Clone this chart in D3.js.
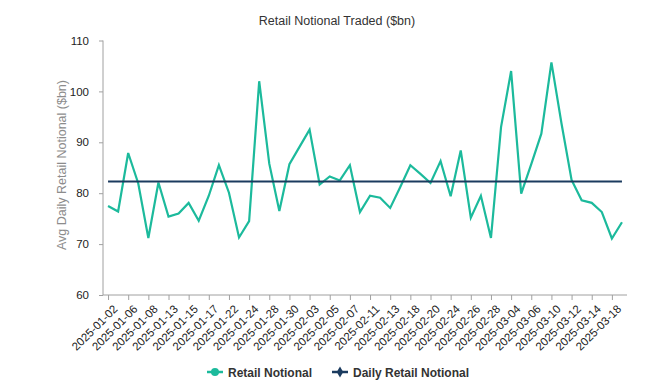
<!DOCTYPE html>
<html>
<head>
<meta charset="utf-8">
<script src="https://cdn.jsdelivr.net/npm/d3@7"></script>
<style>
  body { margin: 0; background: #fff; }
  text { font-family: "Liberation Sans", Arial, sans-serif; }
  .tick text { fill: #222; font-size: 11.5px; }
  .axis path, .axis line { stroke: #a0a0a0; }
</style>
</head>
<body>
<svg id="chart" width="670" height="388"></svg>
<script>
// trading days (labels shown every other day)
var dates = [
  "2025-01-02","2025-01-03","2025-01-06","2025-01-07","2025-01-08","2025-01-10",
  "2025-01-13","2025-01-14","2025-01-15","2025-01-16","2025-01-17","2025-01-21",
  "2025-01-22","2025-01-23","2025-01-24","2025-01-27","2025-01-28","2025-01-29",
  "2025-01-30","2025-01-31","2025-02-03","2025-02-04","2025-02-05","2025-02-06",
  "2025-02-07","2025-02-10","2025-02-11","2025-02-12","2025-02-13","2025-02-14",
  "2025-02-18","2025-02-19","2025-02-20","2025-02-21","2025-02-24","2025-02-25",
  "2025-02-26","2025-02-27","2025-02-28","2025-03-03","2025-03-04","2025-03-05",
  "2025-03-06","2025-03-07","2025-03-10","2025-03-11","2025-03-12","2025-03-13",
  "2025-03-14","2025-03-17","2025-03-18","2025-03-19"
];
var retail = [
  77.5, 76.4, 87.9, 81.9, 71.2, 82.1, 75.4, 76.0, 78.1, 74.6, 79.5, 85.5,
  80.1, 71.3, 74.5, 102.0, 85.8, 76.5, 85.7, 89.1, 92.5, 81.7, 83.3, 82.5,
  85.5, 76.3, 79.5, 79.1, 77.1, 81.2, 85.5, 83.8, 82.0, 86.3, 79.4, 88.4,
  75.2, 79.5, 71.2, 93.0, 104.0, 79.9, 85.7, 91.7, 105.7, 93.7, 82.6, 78.6,
  78.1, 76.3, 71.1, 74.3
];
var dailyAvg = 82.3;
var yTicks = [60, 70, 80, 90, 100, 110];

var TEAL = "#1cba9c", NAVY = "#1b3b5f";

var svg = d3.select("#chart");
var x = d3.scalePoint().domain(dates).range([103, 627]).padding(0.5);
var y = d3.scaleLinear().domain([60, 110]).range([295, 40.5]);

// title
svg.append("text")
  .attr("x", 337).attr("y", 25)
  .attr("text-anchor", "middle")
  .attr("font-size", "12.5px")
  .attr("fill", "#333")
  .text("Retail Notional Traded ($bn)");

// y axis
var yAxis = svg.append("g")
  .attr("class", "axis")
  .attr("transform", "translate(103,0)")
  .call(d3.axisLeft(y).tickValues(yTicks).tickSize(4).tickPadding(10));
yAxis.select(".domain").attr("d", "M0," + y(110) + "V" + y(60));

svg.append("text")
  .attr("transform", "translate(66,165) rotate(-90)")
  .attr("text-anchor", "middle")
  .attr("font-size", "12.5px")
  .attr("fill", "#8c8c8c")
  .text("Avg Daily Retail Notional ($bn)");

// x axis
var labelDates = dates.filter(function(d, i){ return i % 2 == 0; });
var xAxis = svg.append("g")
  .attr("class", "axis")
  .attr("transform", "translate(0,295)")
  .call(d3.axisBottom(x).tickValues(labelDates).tickSize(5).tickSizeOuter(0));
xAxis.select(".domain").attr("d", "M103,0H627");
xAxis.selectAll(".tick text")
  .attr("text-anchor", "end")
  .attr("dx", "0")
  .attr("dy", "0")
  .attr("transform", "translate(4,9) rotate(-45)");

// lines
var line = d3.line()
  .x(function(d){ return x(d.date); })
  .y(function(d){ return y(d.value); });

svg.append("path")
  .datum(dates.map(function(d, i){ return {date: d, value: retail[i]}; }))
  .attr("fill", "none")
  .attr("stroke", TEAL)
  .attr("stroke-width", 2.2)
  .attr("stroke-linejoin", "miter")
  .attr("d", line);

svg.append("path")
  .datum(dates.map(function(d){ return {date: d, value: dailyAvg}; }))
  .attr("fill", "none")
  .attr("stroke", NAVY)
  .attr("stroke-width", 2.2)
  .attr("d", line);

// legend
var legend = svg.append("g").attr("transform", "translate(0,372)");
var items = [
  {name: "Retail Notional", color: TEAL, shape: d3.symbolCircle, x0: 207},
  {name: "Daily Retail Notional", color: NAVY, shape: d3.symbolDiamond, x0: 332}
];
items.forEach(function(it){
  var g = legend.append("g").attr("transform", "translate(" + it.x0 + ",0)");
  g.append("line")
    .attr("x1", 0).attr("x2", 16)
    .attr("stroke", it.color).attr("stroke-width", 2.5);
  g.append("path")
    .attr("transform", "translate(8,0)")
    .attr("d", d3.symbol().type(it.shape).size(it.shape == d3.symbolCircle ? 50 : 36)())
    .attr("fill", it.color);
  g.append("text")
    .attr("x", 21).attr("y", 4.5)
    .attr("font-size", "12px")
    .attr("font-weight", "bold")
    .attr("fill", "#333")
    .text(it.name);
});
</script>
</body>
</html>
